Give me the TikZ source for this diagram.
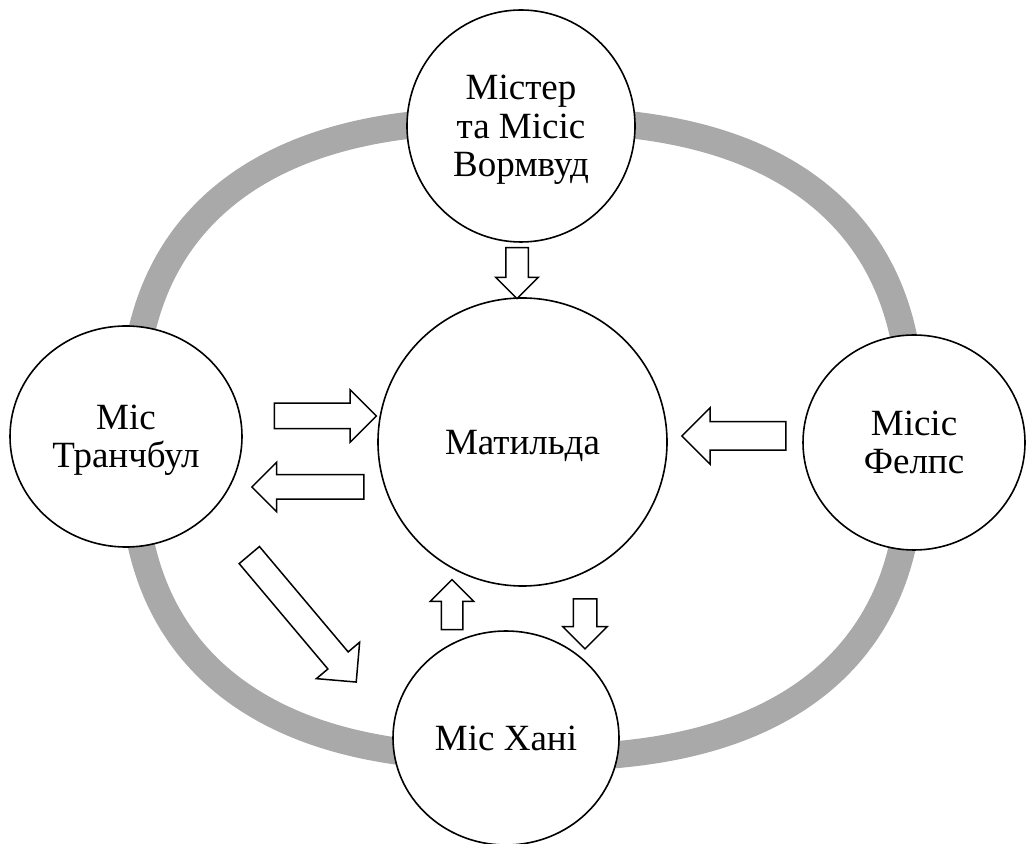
\documentclass[tikz,border=0pt]{standalone}
\usepackage{amsmath}
\usepackage{fontspec}
\setmainfont{Liberation Serif}
\usetikzlibrary{shapes.geometric,shapes.arrows}

\definecolor{ringgray}{HTML}{A9A9A9}

\tikzset{
  person/.style={ellipse, draw, line width=1.6pt, fill=white, align=center,
    inner sep=0pt, font=\fontsize{37}{38.5}\selectfont},
  barrow/.style 2 args={single arrow, draw, line width=1.5pt, fill=white,
    inner sep=0pt, inner ysep=#1, single arrow head extend=#2},
  ring/.style={draw=ringgray, line width=27pt},
}

\begin{document}
\begin{tikzpicture}[x=1pt, y=1pt]
  \useasboundingbox (0,0) rectangle (1027,843);

  % grey ring behind the people
  \draw[ring] plot[domain=1:361, samples=120, smooth cycle]
    ({522+390*cos(\x)*abs(cos(\x))^(-0.22)}, {404+319*sin(\x)*abs(sin(\x))^(-0.22)});

  \node[person, minimum width=289pt, minimum height=288pt] (mat) at (522.5,401) {\smash[b]{Матильда}};
    \node[person, minimum width=228pt, minimum height=232pt] (wood) at (521,717) {Містер\\та Місіс\\\smash[b]{Вормвуд}};
    \node[person, minimum width=232pt, minimum height=221pt] (trunch) at (126,406.5) {Міс\\\smash[b]{Транчбул}};
    \node[person, minimum width=222pt, minimum height=215pt] (phelps) at (914,400.5) {Місіс\\\smash[b]{Фелпс}};
    \node[person, minimum width=226pt, minimum height=214pt] (honey) at (506,105) {\smash[b]{Міс Хані}};

  % block arrows
  \node[barrow={10.5pt}{10pt}, minimum height=51pt, rotate=-90] (a_wm) at (517,575.5) {};
  \node[barrow={12pt}{13.5pt}, minimum height=102pt] (a_tm) at (319,427) {};
  \node[barrow={11.5pt}{12.5pt}, minimum height=112pt, rotate=180] (a_mt) at (314,356) {};
  \node[barrow={13.5pt}{14pt}, minimum height=104pt, rotate=180] (a_pm) at (741,407) {};
  \node[barrow={12.5pt}{15pt}, minimum height=166pt, rotate=-49.9] (a_th) at (298.5,229.5) {};
  \node[barrow={10pt}{11pt}, minimum height=50pt, rotate=90] (a_hm) at (452,233) {};
  \node[barrow={11pt}{10.5pt}, minimum height=50pt, rotate=-90] (a_mh) at (585,225) {};

\end{tikzpicture}
\end{document}
